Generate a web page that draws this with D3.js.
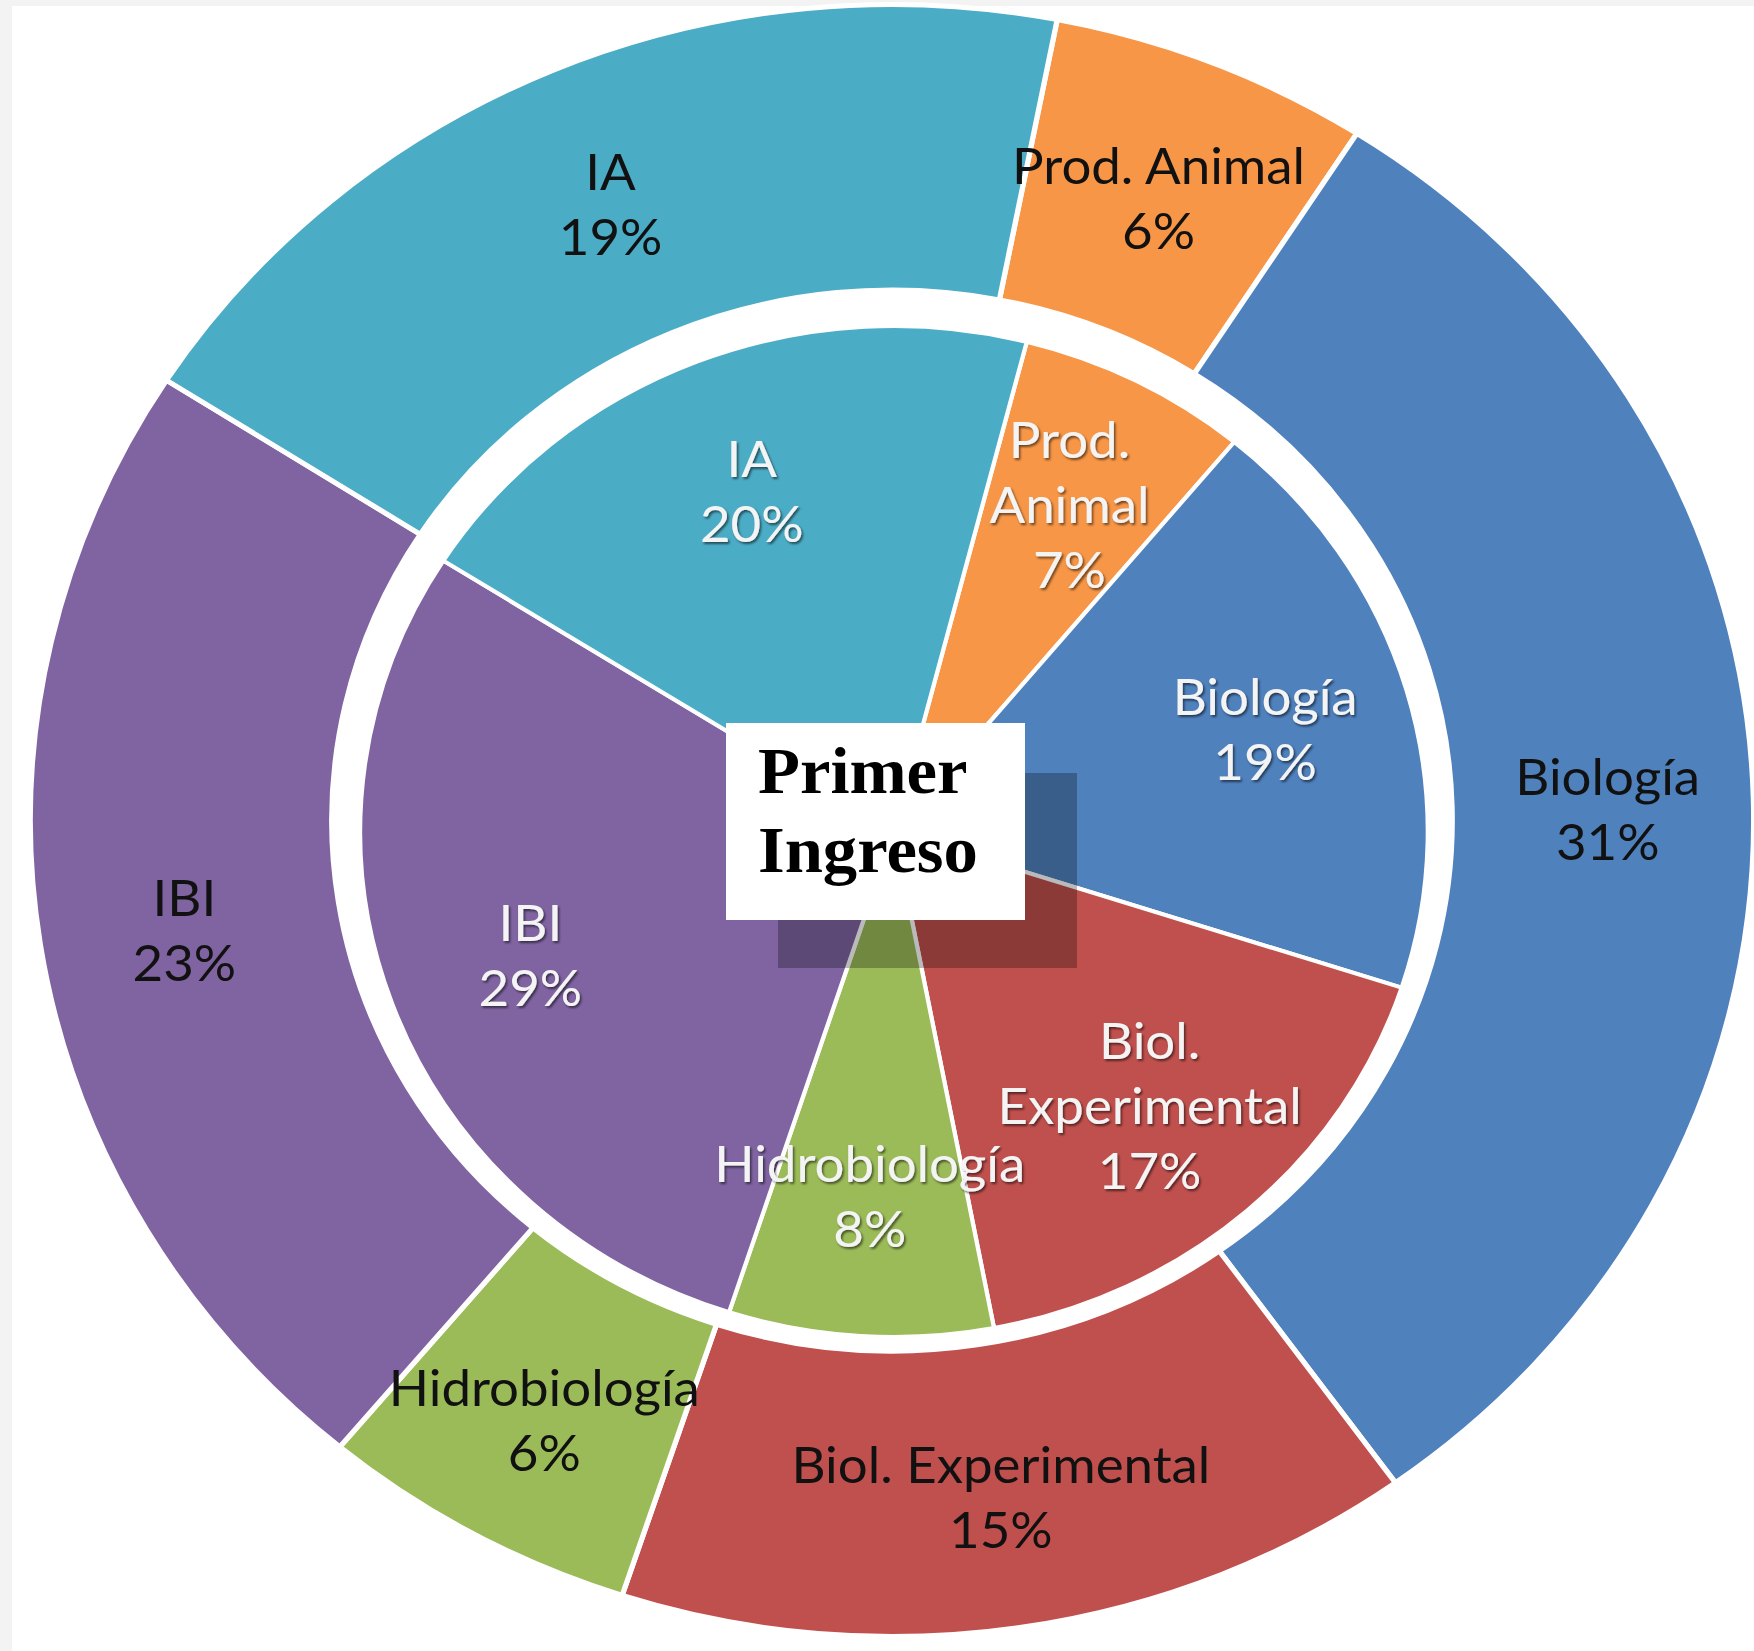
<!DOCTYPE html>
<html>
<head>
<meta charset="utf-8">
<title>Primer Ingreso</title>
<script src="https://cdn.jsdelivr.net/npm/d3@7"></script>
<style>
	body { margin: 0; background: #fff; }
	svg { display: block; }
</style>
</head>
<body>
<svg class="svg-chart"></svg>
<script>
//Data (percent)
const categories = ['Prod. Animal', 'Biología', 'Biol. Experimental', 'Hidrobiología', 'IBI', 'IA']
const outerValues = [6, 31, 15, 6, 23, 19] //outer ring
const innerValues = [7, 19, 17, 8, 29, 20] //inner pie
const colors = ['#F79646', '#4F81BD', '#C0504D', '#9BBB59', '#8064A2', '#4BACC6']
const centerTitle = ['Primer', 'Ingreso']

//svg container
const svgWidth = 1754,
	svgHeight = 1651,
	sx = 1.056 //picture is a bit wider than tall

const svg = d3.select('.svg-chart').attr('width', svgWidth).attr('height', svgHeight)

//grey strip on top/left, white page
svg.append('rect').attr('width', svgWidth).attr('height', svgHeight).attr('fill', '#f3f3f3')
svg.append('rect').attr('x', 12).attr('y', 6).attr('width', svgWidth - 12).attr('height', svgHeight - 6).attr('fill', '#fff')

const defs = svg.append('defs')
defs.append('filter')
	.attr('id', 'shadow')
	.attr('x', '-10%').attr('y', '-10%').attr('width', '120%').attr('height', '120%')
	.append('feDropShadow')
	.attr('dx', 1.5).attr('dy', 2).attr('stdDeviation', 1.2)
	.attr('flood-color', '#000').attr('flood-opacity', 0.55)

const color = d3.scaleOrdinal().domain(categories).range(colors)

const toRows = function (vals) {
	return categories.map(function (c, i) { return { name: c, value: vals[i] } })
}

const outerStart = 0.0307 * 2 * Math.PI,
	innerStart = 0.04 * 2 * Math.PI

const outerPie = d3.pie().sort(null).value(d => d.value)
	.startAngle(outerStart).endAngle(outerStart + 2 * Math.PI)
const innerPie = d3.pie().sort(null).value(d => d.value)
	.startAngle(innerStart).endAngle(innerStart + 2 * Math.PI)

const outerArc = d3.arc().innerRadius(530.5).outerRadius(816)
const outerLabelArc = d3.arc().innerRadius(678).outerRadius(678)
const innerArc = d3.arc().innerRadius(0).outerRadius(505.5)
const innerLabelArc = d3.arc().innerRadius(366).outerRadius(366)

const lineH = 65

//Outer ring
const gOuter = svg.append('g').attr('transform', 'translate(892,820.5) scale(' + sx + ',1)')
gOuter.selectAll('path')
	.data(outerPie(toRows(outerValues)))
	.enter()
	.append('path')
	.attr('d', outerArc)
	.attr('fill', d => color(d.data.name))
	.attr('stroke', '#fff')
	.attr('stroke-width', 5)

//Inner pie
const gInner = svg.append('g').attr('transform', 'translate(894,831.5) scale(' + sx + ',1)')
gInner.selectAll('path')
	.data(innerPie(toRows(innerValues)))
	.enter()
	.append('path')
	.attr('d', innerArc)
	.attr('fill', d => color(d.data.name))
	.attr('stroke', '#fff')
	.attr('stroke-width', 4)

//stacked tspans centred on the label point
const addLines = function (sel, linesOf, off) {
	sel.each(function (d) {
		const lines = linesOf(d)
		const t = d3.select(this)
		lines.forEach(function (l, k) {
			t.append('tspan')
				.attr('x', 0)
				.attr('y', (k - (lines.length - 1) / 2) * lineH + off)
				.text(l)
		})
	})
}

//outer labels, dark
gOuter.selectAll('text')
	.data(outerPie(toRows(outerValues)))
	.enter()
	.append('text')
	.attr('transform', d => 'translate(' + outerLabelArc.centroid(d) + ')')
	.attr('text-anchor', 'middle')
	.style('font-family', 'Lato, sans-serif')
	.style('font-size', '50px')
	.style('fill', '#111')
	.call(addLines, d => [d.data.name, d.data.value + '%'], 25)

//inner labels, light with shadow
gInner.selectAll('text')
	.data(innerPie(toRows(innerValues)))
	.enter()
	.append('text')
	.attr('transform', d => 'translate(' + innerLabelArc.centroid(d) + ')')
	.attr('text-anchor', 'middle')
	.attr('filter', 'url(#shadow)')
	.style('font-family', 'Lato, sans-serif')
	.style('font-size', '50px')
	.style('fill', '#f4f4f4')
	.call(addLines, d => d.data.name.replace('. ', '.\n').split('\n').concat([d.data.value + '%']), 18)

//Center title box with its dark shadow
svg.append('rect')
	.attr('x', 778).attr('y', 773).attr('width', 299).attr('height', 195)
	.attr('fill', 'rgba(0,0,0,0.27)')
svg.append('rect')
	.attr('x', 726).attr('y', 723).attr('width', 299).attr('height', 197)
	.attr('fill', '#fff')

const gTitle = svg.append('g').attr('transform', 'translate(758,0) scale(' + sx + ',1)')
gTitle.selectAll('text')
	.data(centerTitle)
	.enter()
	.append('text')
	.attr('x', 0)
	.attr('y', (d, i) => 793 + i * 79)
	.style('font-family', '"Liberation Serif", serif')
	.style('font-weight', 'bold')
	.style('font-size', '65px')
	.style('fill', '#000')
	.text(d => d)
</script>
</body>
</html>
